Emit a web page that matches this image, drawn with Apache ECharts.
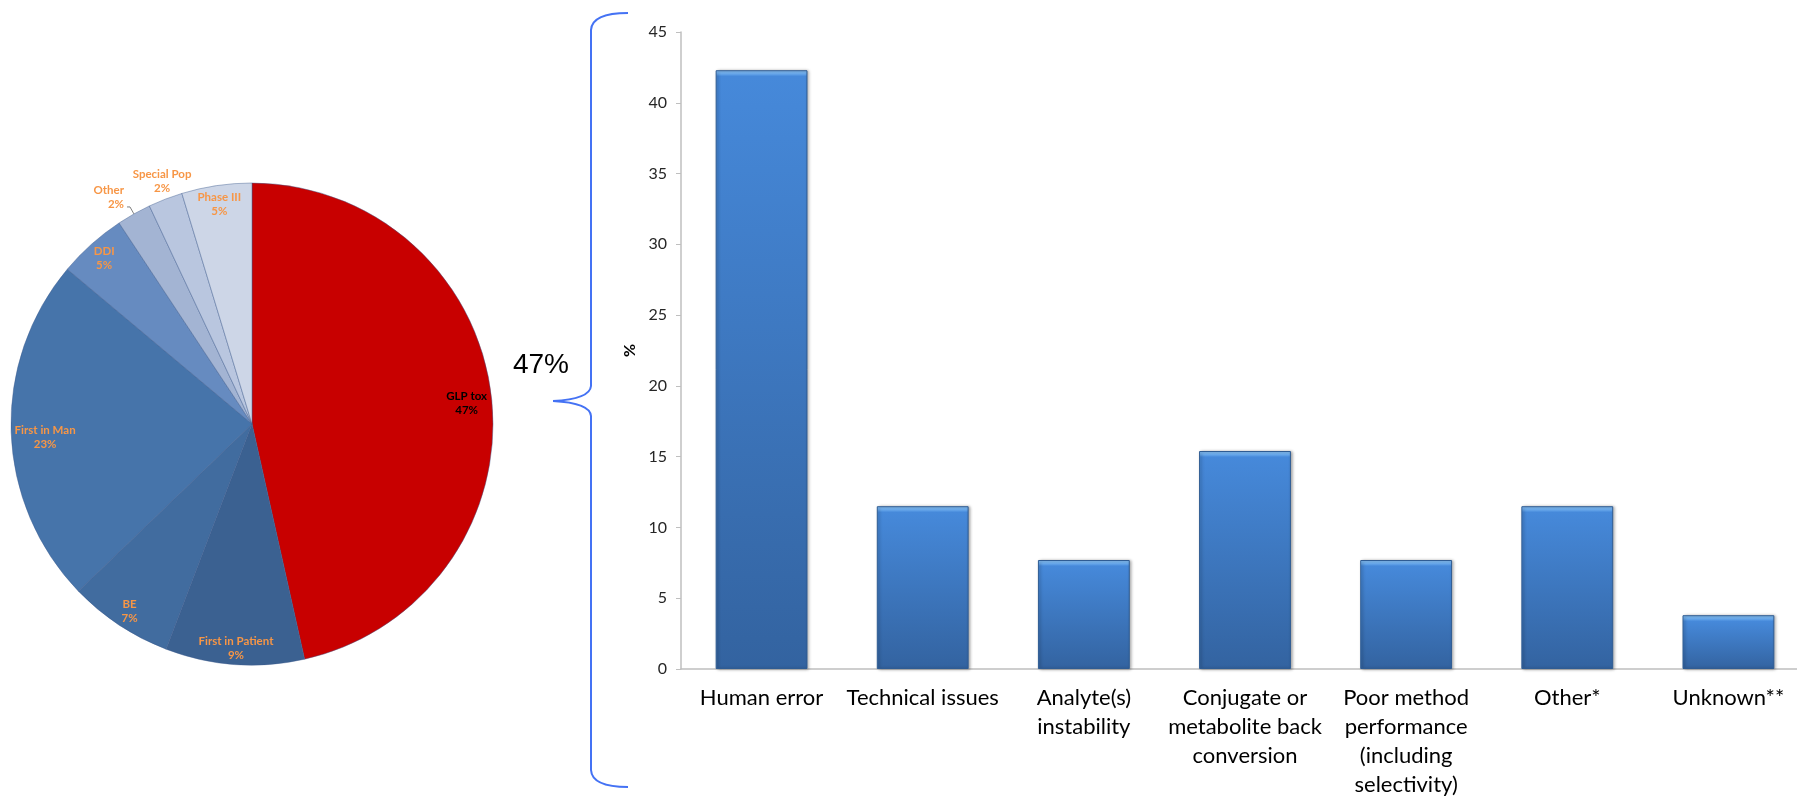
<!DOCTYPE html>
<html><head><meta charset="utf-8">
<script src="https://cdn.jsdelivr.net/npm/echarts@6/dist/echarts.min.js"></script>
<style>html,body{margin:0;padding:0;background:#fff;overflow:hidden;width:1797px;height:799px}#c{width:1812px;height:799px}</style>
</head><body><div id="c"></div>
<script>
// ---- data ----
const pieNames = ['GLP tox', 'First in Patient', 'BE', 'First in Man', 'DDI', 'Other', 'Special Pop', 'Phase III'];
const pieValues = [46.5, 9.3, 7.0, 23.3, 4.6, 2.3, 2.3, 4.7];
const barCategories = ['Human error', 'Technical issues', 'Analyte(s)\ninstability', 'Conjugate or\nmetabolite back\nconversion', 'Poor method\nperformance\n(including\nselectivity)', 'Other*', 'Unknown**'];
const barValues = [42.3, 11.5, 7.7, 15.4, 7.7, 11.5, 3.8];
const yAxisMin = 0, yAxisMax = 45, yAxisStep = 5;
const yAxisName = '%';
const bracketText = '47%';

// ---- styles ----
const pieColors = ['#C80000', '#3B6191', '#416C9F', '#4674AA', '#668BC0', '#A3B4D3', '#B9C6DF', '#CDD6E7'];
const pieLabelColors = ['#000000', '#F79646', '#F79646', '#F79646', '#F79646', '#F79646', '#F79646', '#F79646'];
const outsideLabels = { 'Other': { length: 8, length2: 3, line: true }, 'Special Pop': { length: 12, length2: 0, line: false } };
// small nudges of label placement (pixels), in the style of Excel's "best fit"
const labelNudge = {
  'GLP tox': { dx: -6, dy: 4 },
  'First in Patient': { dy: 3 },
  'BE': { dy: 2 },
  'First in Man': { dx: 15, dy: 6 },
  'Other': { dx: 2, dy: -10 },
  'Special Pop': { align: 'center', dx: 6, dy: -7 }
};

const chart = echarts.init(document.getElementById('c'), null, { renderer: 'canvas' });

const plotHeight = 641;
function barStyle(v) {
  const h = v / yAxisMax * plotHeight;
  const b = Math.min(0.3, 6 / h);
  return {
    color: { type: 'linear', x: 0, y: 0, x2: 0, y2: 1, colorStops: [
      { offset: 0, color: '#8CC6FA' },
      { offset: b * 0.6, color: '#6AABEE' },
      { offset: b, color: '#4689DA' },
      { offset: 1, color: '#3363A0' }
    ] },
    borderColor: '#2F5C93',
    borderWidth: 1,
    shadowColor: 'rgba(0,0,0,0.35)',
    shadowBlur: 3,
    shadowOffsetX: 1.5,
    shadowOffsetY: 0.5
  };
}

const pieMain = pieNames.map((n, i) => ({ name: n, value: pieValues[i], itemStyle: { color: pieColors[i] } }));
const pieLabelData = pieNames.map((n, i) => {
  const o = outsideLabels[n];
  const item = { name: n, value: pieValues[i], label: { color: pieLabelColors[i] } };
  if (o) {
    item.label.position = 'outside';
    item.labelLine = { show: o.line, length: o.length, length2: o.length2, lineStyle: { color: '#7F7F7F', width: 1 } };
  }
  return item;
});

const labelFont = { fontFamily: 'Lato', fontWeight: 'bold', fontSize: 11.5, lineHeight: 14 };
const braceStyle = { stroke: '#4472F4', lineWidth: 2, fill: null };
const pieCenter = [252, 424];
const pieR = 241;

chart.setOption({
  animation: false,
  backgroundColor: '#ffffff',
  grid: { left: 681, top: 32, right: 3, height: plotHeight, containLabel: false },
  xAxis: {
    type: 'category',
    data: barCategories,
    axisLine: { lineStyle: { color: '#BFBFBF', width: 1.5 } },
    axisTick: { show: false },
    axisLabel: { color: '#000000', fontFamily: 'Lato', fontSize: 22, lineHeight: 29, margin: 14, interval: 0 }
  },
  yAxis: {
    type: 'value',
    min: yAxisMin, max: yAxisMax, interval: yAxisStep,
    name: yAxisName,
    nameLocation: 'middle',
    nameGap: 36,
    nameRotate: 90,
    nameTextStyle: { color: '#000', fontFamily: 'Lato', fontWeight: 'bold', fontSize: 16 },
    axisLine: { show: true, lineStyle: { color: '#BFBFBF', width: 1.5 } },
    axisTick: { show: true, length: 5, lineStyle: { color: '#BFBFBF' } },
    splitLine: { show: false },
    axisLabel: { color: '#262626', fontFamily: 'Lato', fontSize: 16, margin: 14 }
  },
  series: [
    {
      type: 'bar',
      data: barValues.map(v => ({ value: v, itemStyle: barStyle(v) })),
      barCategoryGap: '43%',
      silent: true
    },
    {
      type: 'pie',
      center: pieCenter,
      radius: pieR,
      startAngle: 90,
      clockwise: true,
      silent: true,
      label: { show: false },
      labelLine: { show: false },
      itemStyle: { borderColor: 'rgba(60,90,140,0.55)', borderWidth: 0.8 },
      data: pieMain
    },
    {
      type: 'pie',
      center: pieCenter,
      radius: [pieR - 44, pieR],
      startAngle: 90,
      clockwise: true,
      silent: true,
      avoidLabelOverlap: false,
      z: 5,
      itemStyle: { color: 'rgba(0,0,0,0)' },
      label: Object.assign({ show: true, position: 'inside', rotate: 0,
        formatter: p => p.name + '\n' + Math.round(p.value) + '%' }, labelFont),
      labelLine: { show: false },
      labelLayout: function (p) {
        return labelNudge[pieNames[p.dataIndex]] || {};
      },
      data: pieLabelData
    }
  ],
  graphic: [
    { type: 'bezierCurve', shape: { x1: 628, y1: 13, cpx1: 592, cpy1: 13, x2: 591, y2: 30 }, style: braceStyle, z: 10 },
    { type: 'line', shape: { x1: 591, y1: 30, x2: 591, y2: 386 }, style: braceStyle, z: 10 },
    { type: 'bezierCurve', shape: { x1: 591, y1: 386, cpx1: 590, cpy1: 399, x2: 553, y2: 401 }, style: braceStyle, z: 10 },
    { type: 'bezierCurve', shape: { x1: 553, y1: 401, cpx1: 590, cpy1: 403, x2: 591, y2: 416 }, style: braceStyle, z: 10 },
    { type: 'line', shape: { x1: 591, y1: 416, x2: 591, y2: 770 }, style: braceStyle, z: 10 },
    { type: 'bezierCurve', shape: { x1: 591, y1: 770, cpx1: 592, cpy1: 787, x2: 628, y2: 787 }, style: braceStyle, z: 10 },
    {
      type: 'text',
      x: 541, y: 365,
      style: { text: bracketText, font: '28px "Liberation Sans"', fill: '#000', align: 'center', verticalAlign: 'middle' },
      z: 10
    }
  ]
});
</script>
</body></html>
